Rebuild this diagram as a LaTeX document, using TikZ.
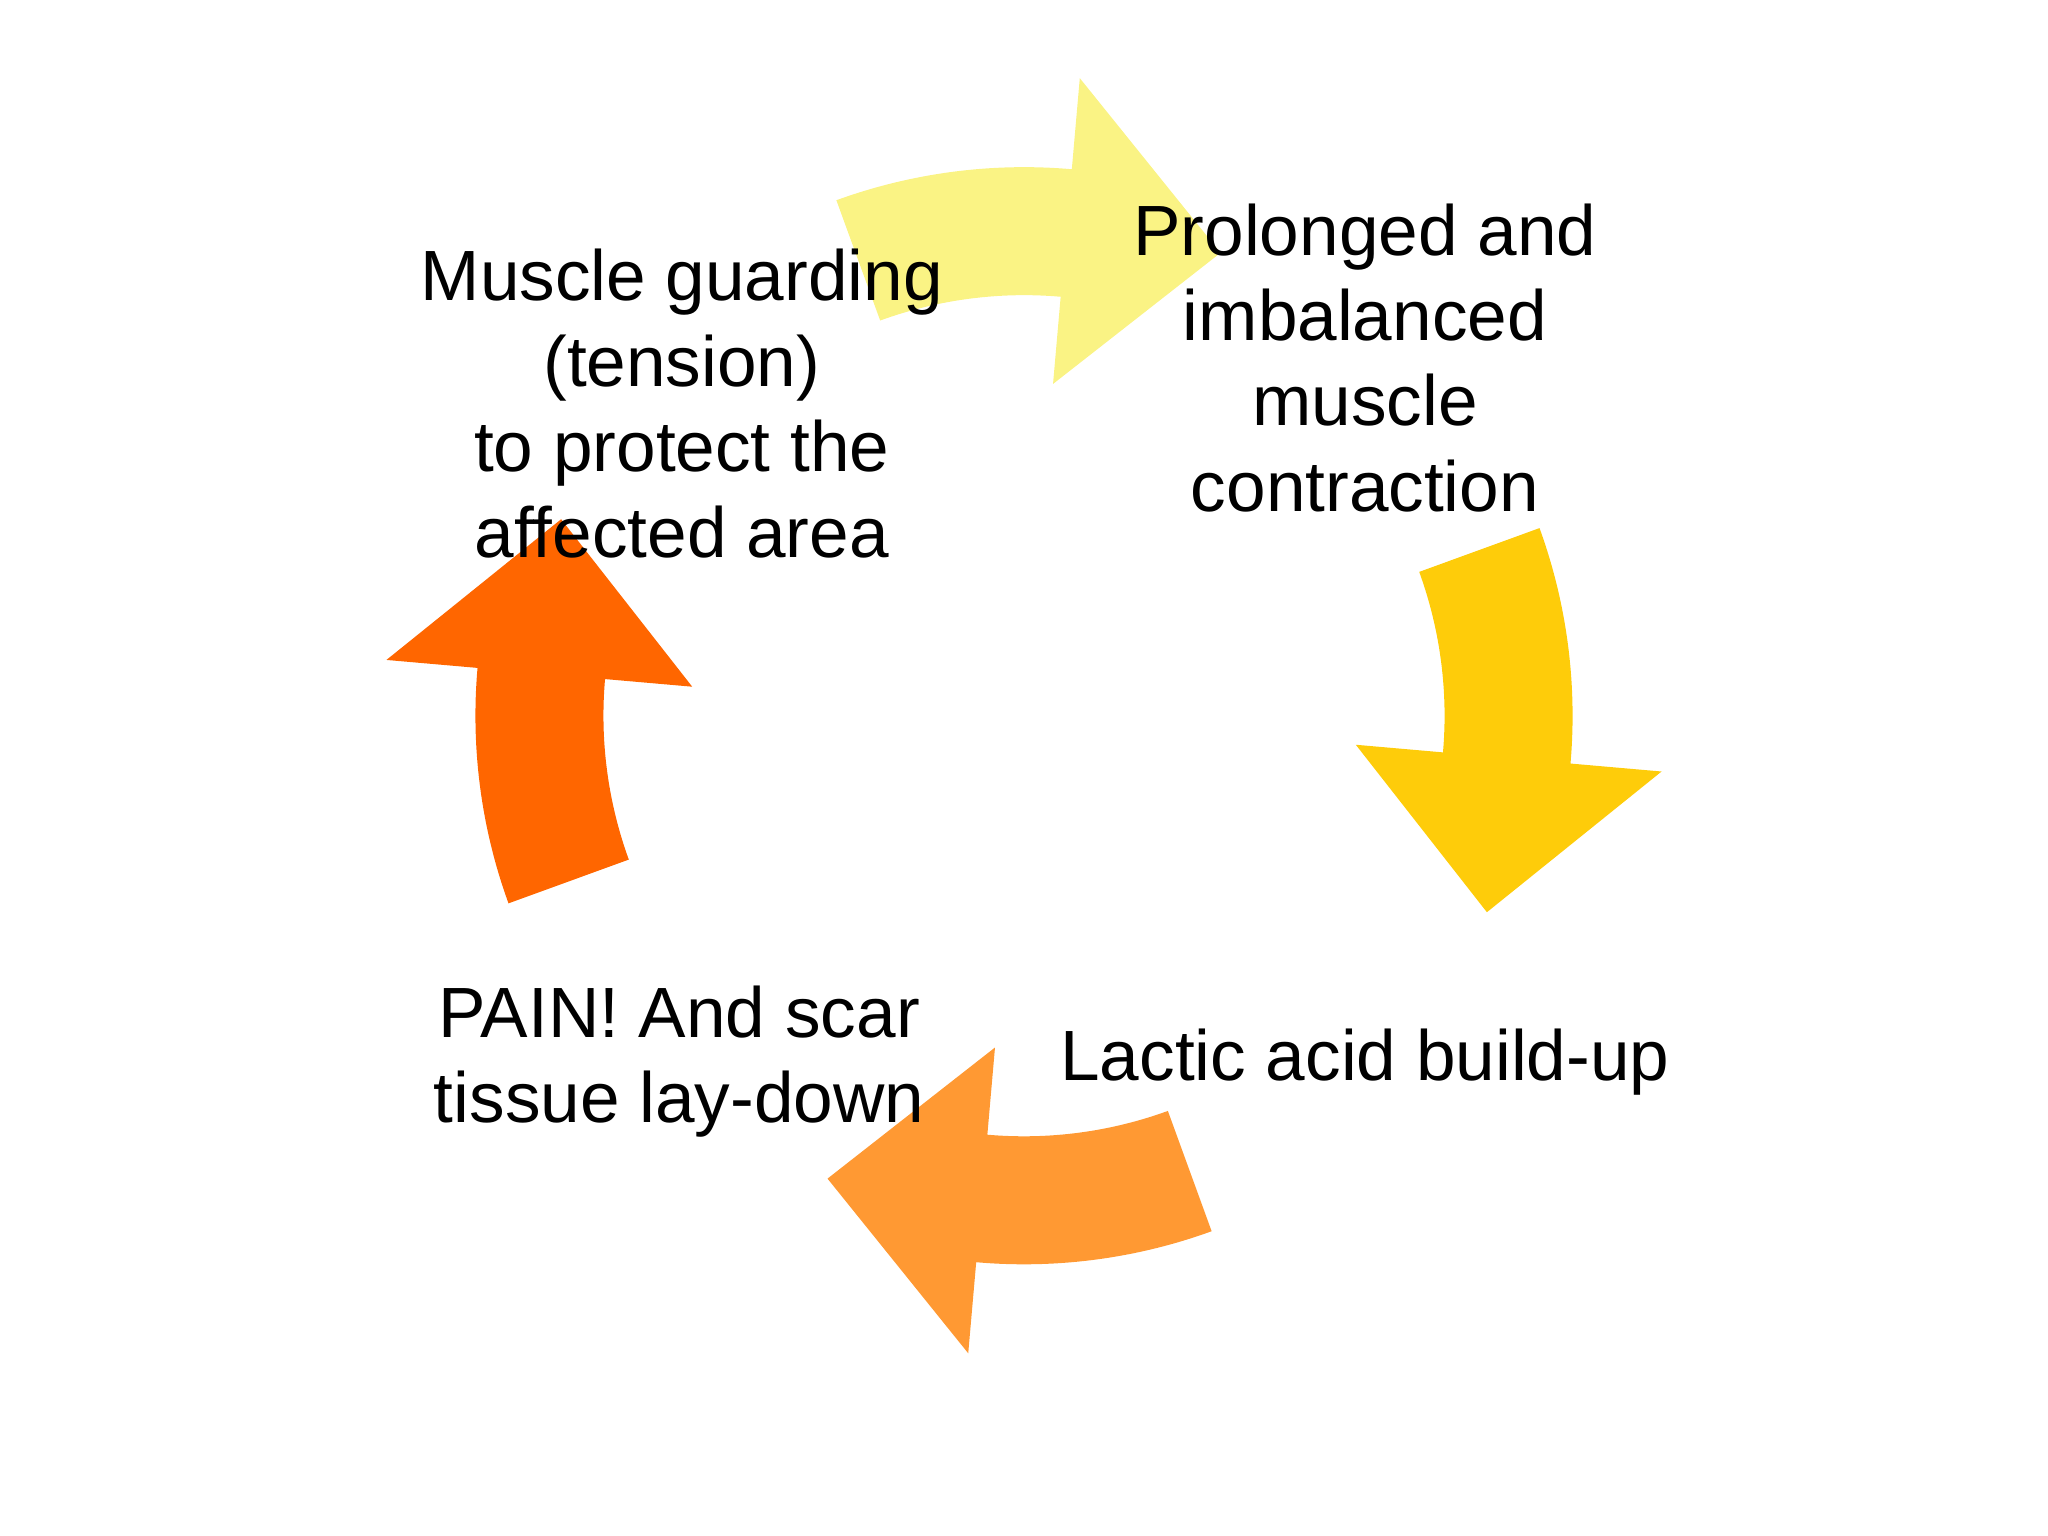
\documentclass[tikz,border=0pt]{standalone}
\usepackage{fontspec}
\setmainfont{Liberation Sans}
\definecolor{cA}{HTML}{FAF384}
\definecolor{cB}{HTML}{FECC0A}
\definecolor{cC}{HTML}{FF9933}
\definecolor{cD}{HTML}{FF6600}
\tikzset{lbl/.style={align=center,font=\fontsize{15.5}{18.6}\selectfont,text=black}}
\newcommand{\cycarrow}[2]{%
  \fill[#2] (#1+20:4.2) arc[start angle=#1+20,end angle=#1-5,radius=4.2] -- (#1-5:4.9) -- (#1-23:3.85) -- (#1-5:2.55) -- (#1-5:3.22) arc[start angle=#1-5,end angle=#1+20,radius=3.22] -- cycle;}
\begin{document}
\begin{tikzpicture}
\useasboundingbox (0,0) rectangle (15.68,11.76);
\begin{scope}[shift={(7.84,6.28)}]
\cycarrow{90}{cA}
\cycarrow{0}{cB}
\cycarrow{-90}{cC}
\cycarrow{180}{cD}
\end{scope}
\node[lbl] (m) at (5.22,8.67) {Muscle guarding\\(tension)\\to protect the\\affected area};
\node[lbl] (p) at (10.45,9.02) {Prolonged and\\imbalanced\\muscle\\contraction};
\node[lbl] (l) at (10.45,3.63) {Lactic acid build-up};
\node[lbl] (a) at (5.2,3.63) {PAIN! And scar\\tissue lay-down};
\end{tikzpicture}
\end{document}
